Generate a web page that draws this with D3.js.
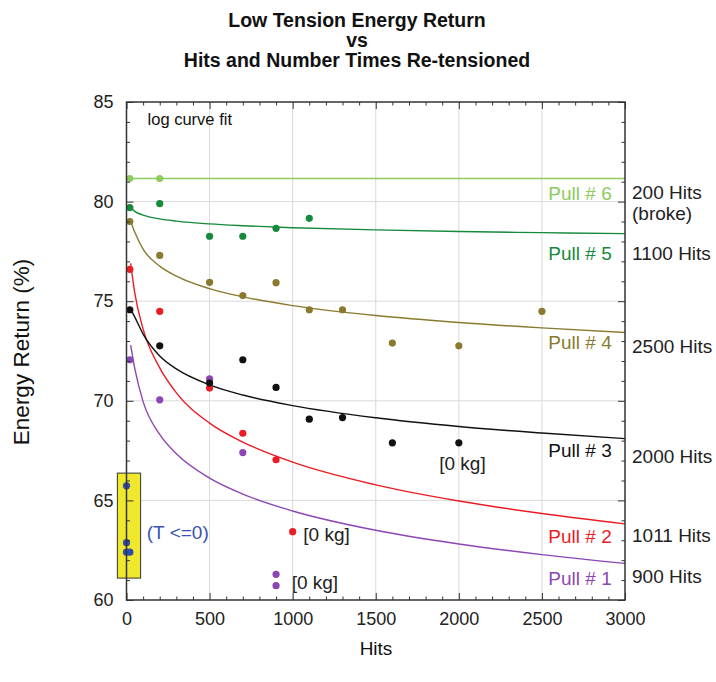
<!DOCTYPE html>
<html>
<head>
<meta charset="utf-8">
<script src="https://cdn.jsdelivr.net/npm/d3@7"></script>
<style>
  body { margin: 0; background: #fff; }
  text { font-family: "Liberation Sans", Arial, sans-serif; }
</style>
</head>
<body>
<div id="my_dataviz"></div>
<script>
// measured points: hits and energy return (%) for each pull
const pull6Hits = [20, 200];
const pull6Vals = [81.16, 81.16];
const pull5Hits = [20, 200, 500, 700, 900, 1100];
const pull5Vals = [79.7, 79.9, 78.26, 78.26, 78.66, 79.16];
const pull4Hits = [20, 200, 500, 700, 900, 1100, 1300, 1600, 2000, 2500];
const pull4Vals = [79.0, 77.3, 75.95, 75.28, 75.93, 74.57, 74.57, 72.9, 72.76, 74.49];
const pull3Hits = [20, 200, 500, 700, 900, 1100, 1300, 1600, 2000];
const pull3Vals = [74.57, 72.76, 70.89, 72.06, 70.67, 69.08, 69.16, 67.89, 67.89];
const pull2Hits = [20, 200, 500, 700, 900, 1000];
const pull2Vals = [76.6, 74.49, 70.64, 68.37, 67.04, 63.43];
const pull1Hits = [20, 200, 500, 700, 900, 900];
const pull1Vals = [72.06, 70.05, 71.1, 67.4, 61.29, 60.72];
const zeroTHits = [0, 0, 0, 20];
const zeroTVals = [65.73, 62.88, 62.4, 62.4];

// log curve fits
const fitHits = [25, 50, 100, 200, 300, 500, 700, 1000, 1500, 2000, 2500, 3000];
const fit6Hits = [0, 3000];
const fit6 = [81.16, 81.16];
const fit5 = [79.70, 79.51, 79.32, 79.13, 79.02, 78.88, 78.79, 78.69, 78.58, 78.50, 78.44, 78.39];
const fit4 = [79.00, 78.46, 77.61, 76.76, 76.26, 75.63, 75.22, 74.78, 74.28, 73.93, 73.66, 73.43];
const fit3 = [74.60, 74.20, 73.35, 72.25, 71.60, 70.80, 70.29, 69.76, 69.15, 68.71, 68.38, 68.10];
const fit2 = [76.90, 75.40, 73.60, 71.65, 70.40, 68.88, 67.93, 66.92, 65.78, 64.97, 64.34, 63.82];
const fit1 = [72.80, 71.62, 69.96, 68.31, 67.34, 66.12, 65.32, 64.47, 63.50, 62.81, 62.28, 61.84];

const pullNames = ["Pull # 1", "Pull # 2", "Pull # 3", "Pull # 4", "Pull # 5", "Pull # 6"];
const pullEnds = ["900 Hits", "1011 Hits", "2000 Hits", "2500 Hits", "1100 Hits", "200 Hits"];
const pullColors = ["#8c46b4", "#ec1c24", "#111111", "#8a7a30", "#16893c", "#8ccb5e"];
const xTicks = [0, 500, 1000, 1500, 2000, 2500, 3000];
const yTicks = [60, 65, 70, 75, 80, 85];

function drawChart() {

    const margin = { top: 102, right: 91, bottom: 82, left: 126.5 },
        width = 716 - margin.left - margin.right,
        height = 682 - margin.top - margin.bottom;

    const root = d3.select("#my_dataviz")
        .append("svg")
        .attr("width", 716)
        .attr("height", 682);

    // title
    const title = root.append("text")
        .attr("text-anchor", "middle")
        .attr("font-size", 19.5)
        .attr("font-weight", "bold")
        .attr("fill", "#111");
    ["Low Tension Energy Return", "vs", "Hits and Number Times Re-tensioned"].forEach((t, i) => {
        title.append("tspan").attr("x", 357).attr("y", 26.5 + i * 20).text(t);
    });

    const svg = root.append("g")
        .attr("transform", `translate(${margin.left},${margin.top})`);

    const x = d3.scaleLinear().domain([0, 3000]).range([0, width]);
    const y = d3.scaleLinear().domain([60, 85]).range([height, 0]);

    // grid
    svg.append("g").selectAll("line")
        .data(xTicks.slice(1, -1))
        .join("line")
        .attr("x1", d => x(d)).attr("x2", d => x(d))
        .attr("y1", 0).attr("y2", height)
        .attr("stroke", "#d9d9d9");
    svg.append("g").selectAll("line")
        .data(yTicks.slice(1, -1))
        .join("line")
        .attr("y1", d => y(d)).attr("y2", d => y(d))
        .attr("x1", 0).attr("x2", width)
        .attr("stroke", "#d9d9d9");

    // yellow box round the T <= 0 points
    svg.append("rect")
        .attr("x", x(-55)).attr("y", y(66.37))
        .attr("width", x(85) - x(-55))
        .attr("height", y(61.1) - y(66.37))
        .attr("fill", "#f0e82c")
        .attr("stroke", "#333")
        .attr("stroke-width", 1);

    // fit curves
    const fits = [fit1, fit2, fit3, fit4, fit5];
    const line = d3.line()
        .x(d => x(d[0]))
        .y(d => y(d[1]))
        .curve(d3.curveMonotoneX);
    fits.forEach((f, i) => {
        svg.append("path")
            .datum(fitHits.map((h, j) => [h, f[j]]))
            .attr("fill", "none")
            .attr("stroke", pullColors[i])
            .attr("stroke-width", 1.4)
            .attr("d", line);
    });
    svg.append("path")
        .datum(fit6Hits.map((h, j) => [h, fit6[j]]))
        .attr("fill", "none")
        .attr("stroke", pullColors[5])
        .attr("stroke-width", 1.6)
        .attr("d", line);

    // points
    const pts = [[pull1Hits, pull1Vals], [pull2Hits, pull2Vals], [pull3Hits, pull3Vals],
        [pull4Hits, pull4Vals], [pull5Hits, pull5Vals], [pull6Hits, pull6Vals]];
    pts.forEach((p, i) => {
        svg.append("g").selectAll("circle")
            .data(p[0].map((h, j) => [h, p[1][j]]))
            .join("circle")
            .attr("cx", d => x(d[0]))
            .attr("cy", d => y(d[1]))
            .attr("r", 3.6)
            .attr("fill", pullColors[i]);
    });
    svg.append("g").selectAll("circle")
        .data(zeroTHits.map((h, j) => [h, zeroTVals[j]]))
        .join("circle")
        .attr("cx", d => x(d[0]))
        .attr("cy", d => y(d[1]))
        .attr("r", 3.6)
        .attr("fill", "#2f4bb0");

    // axes: major + minor ticks, all pointing inward
    const minorX = d3.range(0, 3001, 100).filter(d => d % 500 !== 0);
    const minorY = d3.range(60, 86, 1).filter(d => d % 5 !== 0);
    const styleAxis = g => {
        g.select(".domain").remove();
        g.selectAll("line").attr("stroke", "#333");
        g.selectAll("text").attr("font-size", 18).attr("fill", "#222")
            .attr("font-family", "Liberation Sans, Arial, sans-serif");
    };
    svg.append("g").attr("transform", `translate(0,${height})`)
        .call(d3.axisBottom(x).tickValues(xTicks).tickSize(-7).tickPadding(12).tickFormat(d3.format("d")))
        .call(styleAxis);
    svg.append("g").attr("transform", `translate(0,${height})`)
        .call(d3.axisBottom(x).tickValues(minorX).tickSize(-3.5).tickFormat(""))
        .call(styleAxis);
    svg.append("g")
        .call(d3.axisTop(x).tickValues(xTicks).tickSize(-7).tickFormat(""))
        .call(styleAxis);
    svg.append("g")
        .call(d3.axisTop(x).tickValues(minorX).tickSize(-3.5).tickFormat(""))
        .call(styleAxis);
    svg.append("g")
        .call(d3.axisLeft(y).tickValues(yTicks).tickSize(-7).tickPadding(13))
        .call(styleAxis);
    svg.append("g")
        .call(d3.axisLeft(y).tickValues(minorY).tickSize(-3.5).tickFormat(""))
        .call(styleAxis);
    svg.append("g").attr("transform", `translate(${width},0)`)
        .call(d3.axisRight(y).tickValues(yTicks).tickSize(-7).tickFormat(""))
        .call(styleAxis);
    svg.append("g").attr("transform", `translate(${width},0)`)
        .call(d3.axisRight(y).tickValues(minorY).tickSize(-3.5).tickFormat(""))
        .call(styleAxis);

    // frame
    svg.append("rect")
        .attr("width", width).attr("height", height)
        .attr("fill", "none")
        .attr("stroke", "#333")
        .attr("stroke-width", 1.5);

    // labels inside the plot
    const pullLabelY = [60.75, 62.88, 67.19, 72.6, 77.07, 80.08];
    svg.append("g").selectAll("text")
        .data(pullNames)
        .join("text")
        .attr("x", x(2920))
        .attr("y", (d, i) => y(pullLabelY[i]))
        .attr("text-anchor", "end")
        .attr("font-size", 19)
        .attr("fill", (d, i) => pullColors[i])
        .text(d => d);

    // end-of-life labels outside the plot
    const endY = [60.85, 62.9, 66.89, 72.42, 77.05, 80.15];
    svg.append("g").selectAll("text")
        .data(pullEnds)
        .join("text")
        .attr("x", width + 7)
        .attr("y", (d, i) => y(endY[i]))
        .attr("font-size", 19)
        .attr("fill", "#222")
        .text(d => d);
    svg.append("text")
        .attr("x", width + 7).attr("y", y(79.1))
        .attr("font-size", 19).attr("fill", "#222")
        .text("(broke)");

    // [0 kg] notes
    const kgHits = [1882, 1064, 994];
    const kgVals = [66.53, 62.96, 60.55];
    svg.append("g").selectAll("text")
        .data(kgHits)
        .join("text")
        .attr("x", d => x(d))
        .attr("y", (d, i) => y(kgVals[i]))
        .attr("font-size", 19)
        .attr("fill", "#222")
        .text("[0 kg]");

    svg.append("text")
        .attr("x", x(122)).attr("y", y(63.06))
        .attr("font-size", 19)
        .attr("fill", "#3a52b4")
        .text("(T <=0)");

    svg.append("text")
        .attr("x", x(127)).attr("y", y(83.85))
        .attr("font-size", 16.5)
        .attr("fill", "#111")
        .text("log curve fit");

    // axis titles
    root.append("text")
        .attr("x", 376).attr("y", 655)
        .attr("text-anchor", "middle")
        .attr("font-size", 19)
        .attr("fill", "#111")
        .text("Hits");
    root.append("text")
        .attr("transform", "translate(29,352) rotate(-90)")
        .attr("text-anchor", "middle")
        .attr("font-size", 22.5)
        .attr("fill", "#111")
        .text("Energy Return (%)");
}

drawChart();
</script>
</body>
</html>
